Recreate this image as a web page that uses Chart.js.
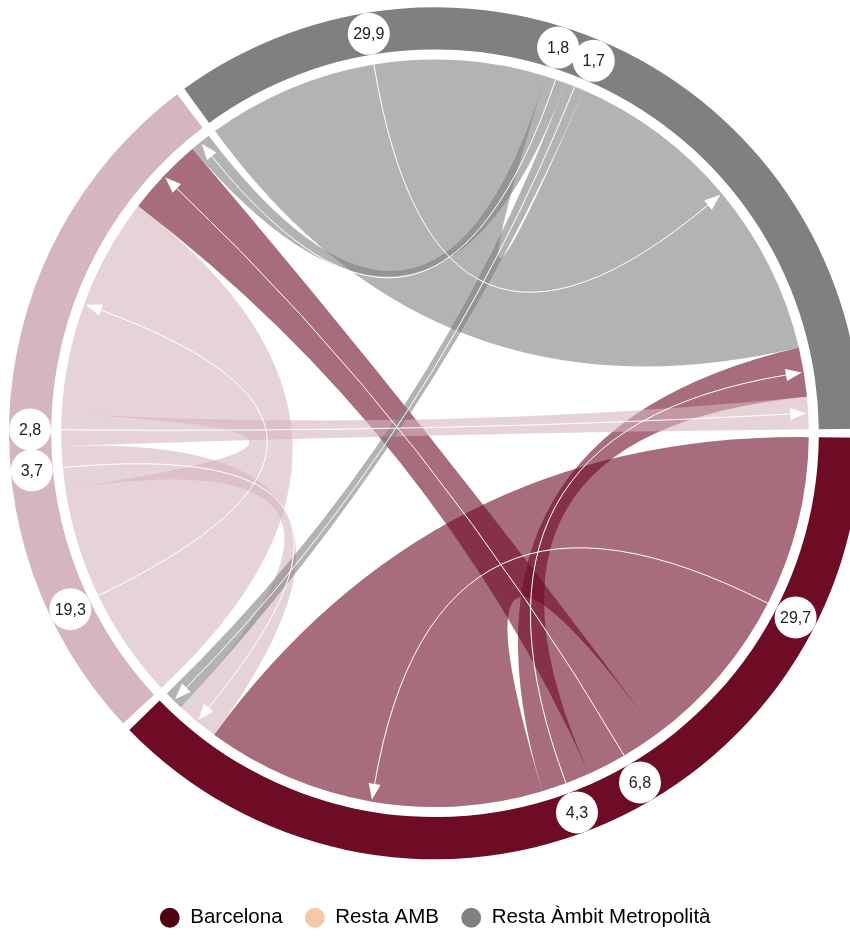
<!DOCTYPE html>
<html>
<head>
<meta charset="utf-8">
<title>Fluxos</title>
<script src="https://cdn.jsdelivr.net/npm/chart.js@4.4.0/dist/chart.umd.min.js"></script>
<style>
    html, body { margin: 0; padding: 0; background: #fff; overflow: hidden; }
    #chordChart { position: absolute; left: 0; top: -27px; }
</style>
</head>
<body>
<canvas id="chordChart" width="870" height="965"></canvas>
<script>
// Sectors, clockwise from 3 o'clock
const sectors = ['Barcelona', 'Resta AMB', 'Resta Àmbit Metropolità'];

// Flows (%) by origin, to [Barcelona, Resta AMB, Resta Àmbit Metropolità]
const fromBarcelona = [29.7, 6.8, 4.3];
const fromRestaAMB = [3.7, 19.3, 2.8];
const fromRestaAmbit = [1.7, 1.8, 29.9];

// Order of the link ends on each sector: outgoing first, then incoming
const outOrder = [[0, 1, 2], [1, 0, 2], [2, 1, 0]];
const inOrder = [[0, 1, 2], [1, 0, 2], [2, 0, 1]];

const ringColors = ['#6e0c26', '#d5b5be', '#808080'];
const legendColors = ['#4d0010', '#f5c8a8', '#808080'];
const GAP_DEG = 1.2;
const LINK_ALPHA = 0.6;
const BUBBLE_R = 21;

const flows = [fromBarcelona, fromRestaAMB, fromRestaAmbit];

// Sector size = all that leaves + all that arrives
const sectorTotals = sectors.map((s, i) =>
    flows[i].reduce((a, b) => a + b, 0) + flows.reduce((a, row) => a + row[i], 0));
const grandTotal = sectorTotals.reduce((a, b) => a + b, 0);
const gapValue = grandTotal * GAP_DEG / (360 - GAP_DEG * sectors.length);

// Ring data with an empty gap after each sector
const ringData = [];
const ringFill = [];
sectorTotals.forEach((v, i) => {
    ringData.push(v, gapValue);
    ringFill.push(ringColors[i], 'rgba(0,0,0,0)');
});

function withAlpha(hex, a) {
    const n = parseInt(hex.slice(1), 16);
    return `rgba(${(n >> 16) & 255}, ${(n >> 8) & 255}, ${n & 255}, ${a})`;
}

// Draw links, arrows and value bubbles from the ring arcs
const chordPlugin = {
    id: 'chords',
    afterDatasetsDraw(chart) {
        const ctx = chart.ctx;
        const arcs = chart.getDatasetMeta(0).data;
        const cx = arcs[0].x, cy = arcs[0].y;
        const r = arcs[0].innerRadius - 10;
        const labelR = (arcs[0].innerRadius + arcs[0].outerRadius) / 2;
        const pt = (a, rad) => [cx + Math.cos(a) * rad, cy + Math.sin(a) * rad];

        // split each sector arc into its link ends
        const outEnds = [[], [], []];
        const inEnds = [[], [], []];
        sectors.forEach((s, i) => {
            const arc = arcs[i * 2];
            const k = (arc.endAngle - arc.startAngle) / sectorTotals[i];
            let a = arc.startAngle;
            outOrder[i].forEach(j => {
                outEnds[i][j] = [a, a + flows[i][j] * k];
                a += flows[i][j] * k;
            });
            inOrder[i].forEach(j => {
                inEnds[j][i] = [a, a + flows[j][i] * k];
                a += flows[j][i] * k;
            });
        });

        ctx.save();

        // ribbons
        flows.forEach((row, i) => {
            row.forEach((v, j) => {
                const [s0, s1] = outEnds[i][j];
                const [t0, t1] = inEnds[i][j];
                ctx.beginPath();
                ctx.arc(cx, cy, r, s0, s1);
                let p = pt(t0, r);
                ctx.quadraticCurveTo(cx, cy, p[0], p[1]);
                ctx.arc(cx, cy, r, t0, t1);
                p = pt(s0, r);
                ctx.quadraticCurveTo(cx, cy, p[0], p[1]);
                ctx.closePath();
                ctx.fillStyle = withAlpha(ringColors[i], LINK_ALPHA);
                ctx.fill();
            });
        });

        // arrows along the middle of each link
        ctx.strokeStyle = '#ffffff';
        ctx.fillStyle = '#ffffff';
        ctx.lineWidth = 1;
        flows.forEach((row, i) => {
            row.forEach((v, j) => {
                const sm = (outEnds[i][j][0] + outEnds[i][j][1]) / 2;
                const tm = (inEnds[i][j][0] + inEnds[i][j][1]) / 2;
                const start = pt(sm, r);
                const tip = pt(tm, r - 2);
                const base = pt(tm, r - 18);
                ctx.beginPath();
                ctx.moveTo(start[0], start[1]);
                ctx.quadraticCurveTo(cx, cy, base[0], base[1]);
                ctx.stroke();
                const nx = -Math.sin(tm) * 6, ny = Math.cos(tm) * 6;
                ctx.beginPath();
                ctx.moveTo(tip[0], tip[1]);
                ctx.lineTo(base[0] + nx, base[1] + ny);
                ctx.lineTo(base[0] - nx, base[1] - ny);
                ctx.closePath();
                ctx.fill();
            });
        });

        // value bubbles on the ring, pushed apart when they collide
        const bubbles = [];
        sectors.forEach((s, i) => {
            outOrder[i].forEach(j => {
                bubbles.push({ v: flows[i][j], a: (outEnds[i][j][0] + outEnds[i][j][1]) / 2 });
            });
        });
        const minGap = 38 / labelR;
        for (let pass = 0; pass < 20; pass++) {
            for (let b = 1; b < bubbles.length; b++) {
                const d = bubbles[b].a - bubbles[b - 1].a;
                if (d < minGap) {
                    bubbles[b - 1].a -= (minGap - d) / 2;
                    bubbles[b].a += (minGap - d) / 2;
                }
            }
        }
        ctx.font = '16px Arial, "Liberation Sans", sans-serif';
        ctx.textAlign = 'center';
        ctx.textBaseline = 'middle';
        bubbles.forEach(b => {
            const p = pt(b.a, labelR);
            ctx.beginPath();
            ctx.arc(p[0], p[1], BUBBLE_R, 0, Math.PI * 2);
            ctx.fillStyle = '#ffffff';
            ctx.fill();
            ctx.fillStyle = '#222222';
            ctx.fillText(String(b.v).replace('.', ','), p[0], p[1] + 1);
        });

        ctx.restore();
    }
};

// Initialize chart
const ctx = document.getElementById('chordChart').getContext('2d');
new Chart(ctx, {
    type: 'doughnut',
    data: {
        labels: sectors.flatMap(s => [s, '']),
        datasets: [{
            data: ringData,
            backgroundColor: ringFill,
            borderWidth: 0
        }]
    },
    options: {
        responsive: false,
        animation: false,
        events: [],
        rotation: 90 + GAP_DEG / 2,
        cutout: '90.1%',
        layout: {
            padding: { top: 8, left: 9, right: 9, bottom: 0 }
        },
        plugins: {
            tooltip: { enabled: false },
            legend: {
                position: 'bottom',
                labels: {
                    usePointStyle: true,
                    boxHeight: 14,
                    padding: 22,
                    color: '#222222',
                    font: { family: 'Arial, "Liberation Sans", sans-serif', size: 20.5 },
                    generateLabels: () => sectors.map((s, i) => ({
                        text: s,
                        fillStyle: legendColors[i],
                        strokeStyle: legendColors[i],
                        lineWidth: 0,
                        pointStyle: 'circle',
                        hidden: false,
                        index: i
                    }))
                }
            }
        }
    },
    plugins: [chordPlugin]
});
</script>
</body>
</html>
